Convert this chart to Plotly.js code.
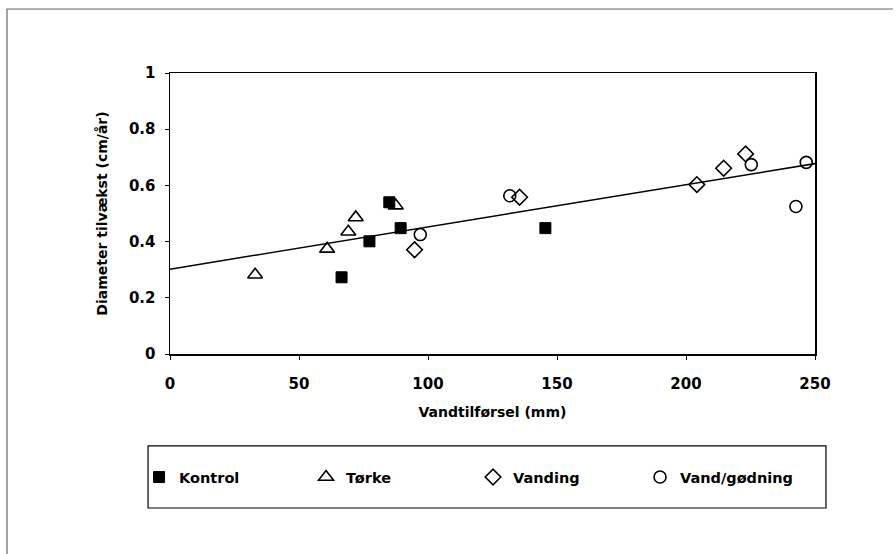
<!DOCTYPE html>
<html>
<head>
<meta charset="utf-8">
<script src="https://cdn.plot.ly/plotly-3.0.1.min.js"></script>
<style>html,body{margin:0;padding:0;background:#fff;}#chart{width:896px;height:554px;}</style>
</head>
<body>
<div id="chart"></div>
<script>
// Data
const kontrolX = [66.5, 77.3, 85.0, 89.4, 145.5];
const kontrolY = [0.273, 0.401, 0.540, 0.448, 0.448];

const torkeX = [33.0, 60.9, 69.1, 72.0, 87.5];
const torkeY = [0.282, 0.374, 0.435, 0.486, 0.528];

const vandingX = [94.8, 135.5, 204.2, 214.6, 223.1];
const vandingY = [0.371, 0.558, 0.603, 0.661, 0.712];

const godningX = [97.0, 131.7, 225.3, 242.6, 246.6];
const godningY = [0.425, 0.563, 0.674, 0.525, 0.682];

const trendX = [0, 253];
const trendY = [0.302, 0.682];

const xTicks = [0, 50, 100, 150, 200, 250];
const yTicks = [0, 0.2, 0.4, 0.6, 0.8, 1];
const yTickText = ['0', '0.2', '0.4', '0.6', '0.8', '1'];

const seriesNames = ['Kontrol', 'Tørke', 'Vanding', 'Vand/gødning'];

const FONT = 'DejaVu Sans, sans-serif';

const traces = [
  {
    x: trendX, y: trendY, type: 'scatter', mode: 'lines',
    line: {color: '#000', width: 1.5}, showlegend: false, hoverinfo: 'skip'
  },
  {
    x: kontrolX, y: kontrolY, type: 'scatter', mode: 'markers', name: seriesNames[0],
    marker: {symbol: 'square', size: 11, color: '#000', line: {color: '#000', width: 1}},
    cliponaxis: false
  },
  {
    x: torkeX, y: torkeY, type: 'scatter', mode: 'markers', name: seriesNames[1],
    marker: {symbol: 'triangle-up-open', size: 13, color: '#000', line: {color: '#000', width: 1.6}},
    cliponaxis: false
  },
  {
    x: vandingX, y: vandingY, type: 'scatter', mode: 'markers', name: seriesNames[2],
    marker: {symbol: 'diamond-open', size: 12, color: '#000', line: {color: '#000', width: 1.6}},
    cliponaxis: false
  },
  {
    x: godningX, y: godningY, type: 'scatter', mode: 'markers', name: seriesNames[3],
    marker: {symbol: 'circle-open', size: 12, color: '#000', line: {color: '#000', width: 1.6}},
    cliponaxis: false
  }
];

const layout = {
  width: 896, height: 554,
  margin: {l: 170, r: 81, t: 73, b: 200},
  paper_bgcolor: '#fff', plot_bgcolor: '#fff',
  font: {family: FONT, color: '#000', size: 14, weight: 'bold'},
  xaxis: {
    range: [0, 250], tickvals: xTicks, ticktext: xTicks.map(String),
    showgrid: false, zeroline: false, showline: true, linecolor: '#000', linewidth: 1.5,
    mirror: true, ticks: 'outside', ticklen: 4, tickcolor: '#000', tickwidth: 1,
    ticklabelstandoff: 11,
    tickfont: {family: FONT, size: 15, weight: 'bold', color: '#000'},
    title: {text: 'Vandtilførsel (mm)', font: {family: FONT, size: 14, weight: 'bold', color: '#000'}, standoff: 15}
  },
  yaxis: {
    range: [0, 1], tickvals: yTicks, ticktext: yTickText,
    showgrid: false, zeroline: false, showline: true, linecolor: '#000', linewidth: 1.5,
    mirror: true, ticks: 'outside', ticklen: 4, tickcolor: '#000', tickwidth: 1,
    ticklabelstandoff: 6,
    tickfont: {family: FONT, size: 15, weight: 'bold', color: '#000'},
    title: {text: 'Diameter tilvækst (cm/år)', font: {family: FONT, size: 14, weight: 'bold', color: '#000'}, standoff: 18}
  },
  showlegend: true,
  legend: {
    orientation: 'h', x: -0.048, xanchor: 'left', y: -0.438, yanchor: 'middle',
    bgcolor: 'rgba(0,0,0,0)', borderwidth: 0,
    entrywidth: 122, entrywidthmode: 'pixels', itemsizing: 'trace',
    font: {family: FONT, size: 14.5, weight: 'bold', color: '#000'}
  },
  shapes: [
    {type: 'rect', xref: 'paper', yref: 'paper', x0: -0.034, x1: 1.017, y0: -0.548, y1: -0.327,
     line: {color: '#000', width: 1.2}, fillcolor: 'rgba(0,0,0,0)'},
    {type: 'path', xref: 'paper', yref: 'paper',
     path: 'M -0.2527 -0.7117 L -0.2527 1.2278 L 1.121 1.2278',
     line: {color: '#666', width: 1.2}}
  ]
};

Plotly.newPlot('chart', traces, layout, {displayModeBar: false, staticPlot: true});
</script>
</body>
</html>
